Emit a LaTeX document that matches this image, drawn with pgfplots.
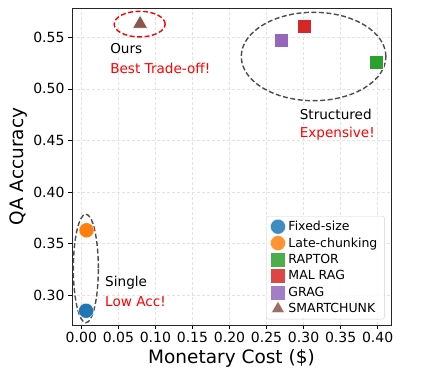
\documentclass[border=0pt]{standalone}
\usepackage{pgfplots}
\pgfplotsset{compat=1.18}
\usepackage{fontspec}
\setmainfont{DejaVu Sans}
\begin{document}
\begin{tikzpicture}
\definecolor{tabblue}{HTML}{1F77B4}
\definecolor{taborange}{HTML}{FF7F0E}
\definecolor{tabgreen}{HTML}{2CA02C}
\definecolor{tabred}{HTML}{D62728}
\definecolor{tabpurple}{HTML}{9467BD}
\definecolor{tabbrown}{HTML}{8C564B}
\begin{axis}[
  scale only axis,
  width=319pt, height=317pt,
  xmin=-0.0126, xmax=0.418,
  ymin=0.2712, ymax=0.5784,
  xtick={0,0.05,...,0.40},
  ytick={0.30,0.35,...,0.56},
  xticklabel style={/pgf/number format/.cd,fixed,fixed zerofill,precision=2},
  yticklabel style={/pgf/number format/.cd,fixed,fixed zerofill,precision=2},
  /pgf/number format/assume math mode=true,
  tick label style={font=\fontsize{14}{16}\selectfont},
  label style={font=\fontsize{18.5}{20}\selectfont},
  xlabel={Monetary Cost (\$)},
  ylabel={QA Accuracy},
  xlabel style={yshift=1pt},
  ylabel style={yshift=-1pt},
  tick align=outside,
  xtick pos=bottom, ytick pos=left,
  major tick length=4pt,
  grid=major,
  major grid style={dash pattern=on 3pt off 2pt, gray!22, line width=0.6pt},
  axis line style={black!85, line width=0.8pt},
  tick style={black, line width=0.8pt},
  legend style={at={(0.98,0.018)}, anchor=south east, font=\fontsize{12.5}{14}\selectfont,
    draw=gray!35, rounded corners=2pt, fill=white, fill opacity=0.85, text opacity=1,
    row sep=1.4pt, inner xsep=4pt, inner ysep=3pt,
    nodes={inner xsep=3pt}},
  legend cell align=left,
  legend image code/.code={\draw[#1, mark size=7.5pt] plot coordinates {(0.35cm,0cm)};},
  clip=false,
]
\addplot[only marks, mark=*, mark size=7.5pt, draw=white, line width=0.3pt, fill=tabblue] coordinates {(0.0064,0.285)};
\addlegendentry{Fixed-size}
\addplot[only marks, mark=*, mark size=7.5pt, draw=white, line width=0.3pt, fill=taborange] coordinates {(0.007,0.363)};
\addlegendentry{Late-chunking}
\addplot[only marks, mark=square*, mark size=7pt, draw=white, line width=0.3pt, fill=tabgreen] coordinates {(0.398,0.526)};
\addlegendentry{RAPTOR}
\addplot[only marks, mark=square*, mark size=7pt, draw=white, line width=0.3pt, fill=tabred] coordinates {(0.301,0.561)};
\addlegendentry{MAL RAG}
\addplot[only marks, mark=square*, mark size=7pt, draw=white, line width=0.3pt, fill=tabpurple] coordinates {(0.2695,0.547)};
\addlegendentry{GRAG}
\addplot[only marks, mark=triangle*, mark size=8.5pt, draw=white, line width=0.3pt, fill=tabbrown] coordinates {(0.0793,0.563)};
\addlegendentry{SMARTCHUNK}

\draw[red, dash pattern=on 5pt off 2.5pt, line width=1.4pt] (axis cs:0.0787,0.5628) ellipse [x radius=25.5pt, y radius=12.8pt];
\draw[black!70, dash pattern=on 5pt off 2.5pt, line width=1.4pt] (axis cs:0.3135,0.5314) ellipse [x radius=72.3pt, y radius=44.2pt];
\draw[black!70, dash pattern=on 5pt off 2.5pt, line width=1.4pt] (axis cs:0.0061,0.326) ellipse [x radius=12.5pt, y radius=54.3pt];

\node[anchor=west, inner sep=0pt, font=\fontsize{13.6}{15}\selectfont] at (axis cs:0.0388,0.5393) {Ours};
\node[anchor=west, inner sep=0pt, text=red, font=\fontsize{13.6}{15}\selectfont] at (axis cs:0.0388,0.520) {Best Trade-off!};
\node[anchor=west, inner sep=0pt, font=\fontsize{13.6}{15}\selectfont] at (axis cs:0.2946,0.4757) {Structured};
\node[anchor=west, inner sep=0pt, text=red, font=\fontsize{13.6}{15}\selectfont] at (axis cs:0.2946,0.4563) {Expensive!};
\node[anchor=west, inner sep=0pt, font=\fontsize{13.6}{15}\selectfont] at (axis cs:0.032,0.3126) {Single};
\node[anchor=west, inner sep=0pt, text=red, font=\fontsize{13.6}{15}\selectfont] at (axis cs:0.032,0.2936) {Low Acc!};
\end{axis}
\path[use as bounding box] ([xshift=-72pt,yshift=-54pt]current axis.south west) rectangle ([xshift=48pt,yshift=8pt]current axis.north east);
\end{tikzpicture}
\end{document}
